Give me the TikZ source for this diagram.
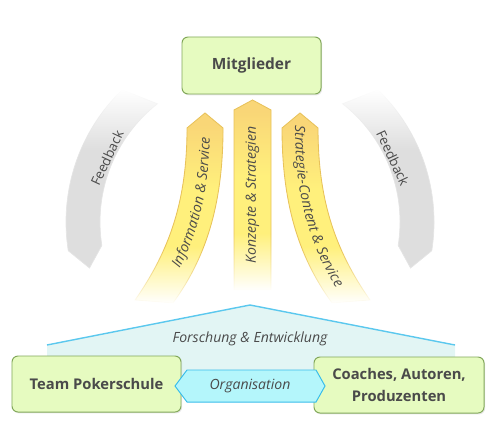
\documentclass[tikz,border=0pt]{standalone}
\usepackage{fontspec}
\setmainfont{Open Sans}
\usetikzlibrary{calc, fadings, shadows, decorations.text}

\definecolor{boxfill}{HTML}{E6FBC0}
\definecolor{boxline}{HTML}{82A85A}
\definecolor{txtgray}{HTML}{4A4A4A}
\definecolor{yeltop}{HTML}{F9D677}
\definecolor{yelmid}{HTML}{FFF07C}
\definecolor{yelline}{HTML}{E8C25A}
\definecolor{fbgray}{HTML}{DEDEDE}
\definecolor{housefill}{HTML}{E2F5F4}
\definecolor{roofline}{HTML}{5BC8EE}
\definecolor{hexfill}{HTML}{B4F6FB}
\definecolor{hexline}{HTML}{38BDEB}

% shadings and fadings for the arrows
\pgfdeclareverticalshading{yelshade}{100bp}{color(0bp)=(yelmid); color(55bp)=(yelmid); color(72bp)=(yeltop); color(100bp)=(yeltop)}
\pgfdeclareverticalshading{yfadeshade}{100bp}{color(0bp)=(black); color(25bp)=(black); color(40bp)=(white); color(100bp)=(white)}
\pgfdeclareverticalshading{fbfadeshade}{100bp}{color(0bp)=(white); color(58bp)=(white); color(75bp)=(black); color(100bp)=(black)}
\tikzfading[name=yfade, shading=yfadeshade]
\tikzfading[name=fbfade, shading=fbfadeshade]

\begin{document}
\begin{tikzpicture}[x=0.25mm, y=0.25mm,
    greenbox/.style={draw=boxline, fill=boxfill, rounded corners=1.5mm, line width=0.7pt, text=txtgray, align=center,
        font=\bfseries\fontsize{10.5}{15.5}\selectfont, drop shadow={opacity=0.18, shadow xshift=0.8pt, shadow yshift=-1pt}},
    yelarrow/.style={draw=yelline, line width=0.6pt, shading=yelshade, path fading=yfade},
    fbarrow/.style={fill=fbgray, draw=black!10, line width=0.5pt, path fading=fbfade},
    slanted/.style={text=txtgray, font=\itshape\fontsize{10}{12}\selectfont},
    fbtext/.style={text=txtgray, font=\fontsize{9.5}{11}\selectfont},
    alongtext/.style={decorate, decoration={text along path, text align=center, raise=-3.5pt, text color=txtgray, text={|\itshape\fontsize{10}{12}\selectfont|#1}}}]
    \useasboundingbox (0,0) rectangle (500,446);

    % feedback arcs
    \coordinate (hub) at (250,224);
    \path[fbarrow] ($(hub)+(134:184)$) arc[start angle=134, end angle=189, radius=184] -- ($(hub)+(196:167)$)
        -- ($(hub)+(189:150)$) arc[start angle=189, end angle=128, radius=150] -- cycle;
    \path[fbarrow] ($(hub)+(46:184)$) arc[start angle=46, end angle=-9, radius=184] -- ($(hub)+(-16:167)$)
        -- ($(hub)+(-9:150)$) arc[start angle=-9, end angle=52, radius=150] -- cycle;
    \node[fbtext, rotate=65] (fbleft) at (107,288) {Feedback};
    \node[fbtext, rotate=-65] (fbright) at (393,288) {Feedback};

    % yellow arrows up to the members
    \path[yelarrow] (187,318) -- (205,333) -- (223,318) .. controls (223,246) and (208,191) .. (173,143)
        -- (135,146) .. controls (170,196) and (187,246) .. (187,318) -- cycle;
    \path[yelarrow] (234,336) -- (252.5,346) -- (271,336) -- (271,156) -- (234,156) -- cycle;
    \path[yelarrow] (282,318) -- (300,333) -- (318,318) .. controls (318,246) and (335,196) .. (370,146)
        -- (332,143) .. controls (297,191) and (282,246) .. (282,318) -- cycle;
    \path[alongtext={Information {\&} Service}] (154,144) .. controls (189,194) and (205,246) .. (205,318) -- (205,350);
    \node[slanted, rotate=90] (konzepte) at (252.5,251) {Konzepte \& Strategien};
    \path[alongtext={Strategie-Content {\&} Service}] (300,340) -- (300,318) .. controls (300,246) and (316,194) .. (351,144);

    \node[greenbox, font=\bfseries\fontsize{11}{13}\selectfont, minimum width=34.75mm, minimum height=14.25mm] (mitglieder) at (251.5,380.5) {Mitglieder};

    % house
    \fill[housefill] (47,101) -- (250,141) -- (455,101) -- (455,60) -- (47,60) -- cycle;
    \draw[roofline, line width=1pt] (47,101) -- (250,141) -- (455,101);
    \node[slanted] (forschung) at (250,107) {Forschung \& Entwicklung};

    \node[greenbox, minimum width=42.25mm, minimum height=14mm] (team) at (96.5,62) {Team Pokerschule};
    \node[greenbox, minimum width=42.5mm, minimum height=14mm] (coaches) at (399,61) {Coaches, Autoren,\\Produzenten};

    % organisation
    \path[fill=hexfill, draw=hexline, line width=0.7pt] (175,60) -- (187,76) -- (316,76) -- (325,60) -- (316,44) -- (187,44) -- cycle;
    \node[slanted] (org) at (250,60) {Organisation};
\end{tikzpicture}
\end{document}
